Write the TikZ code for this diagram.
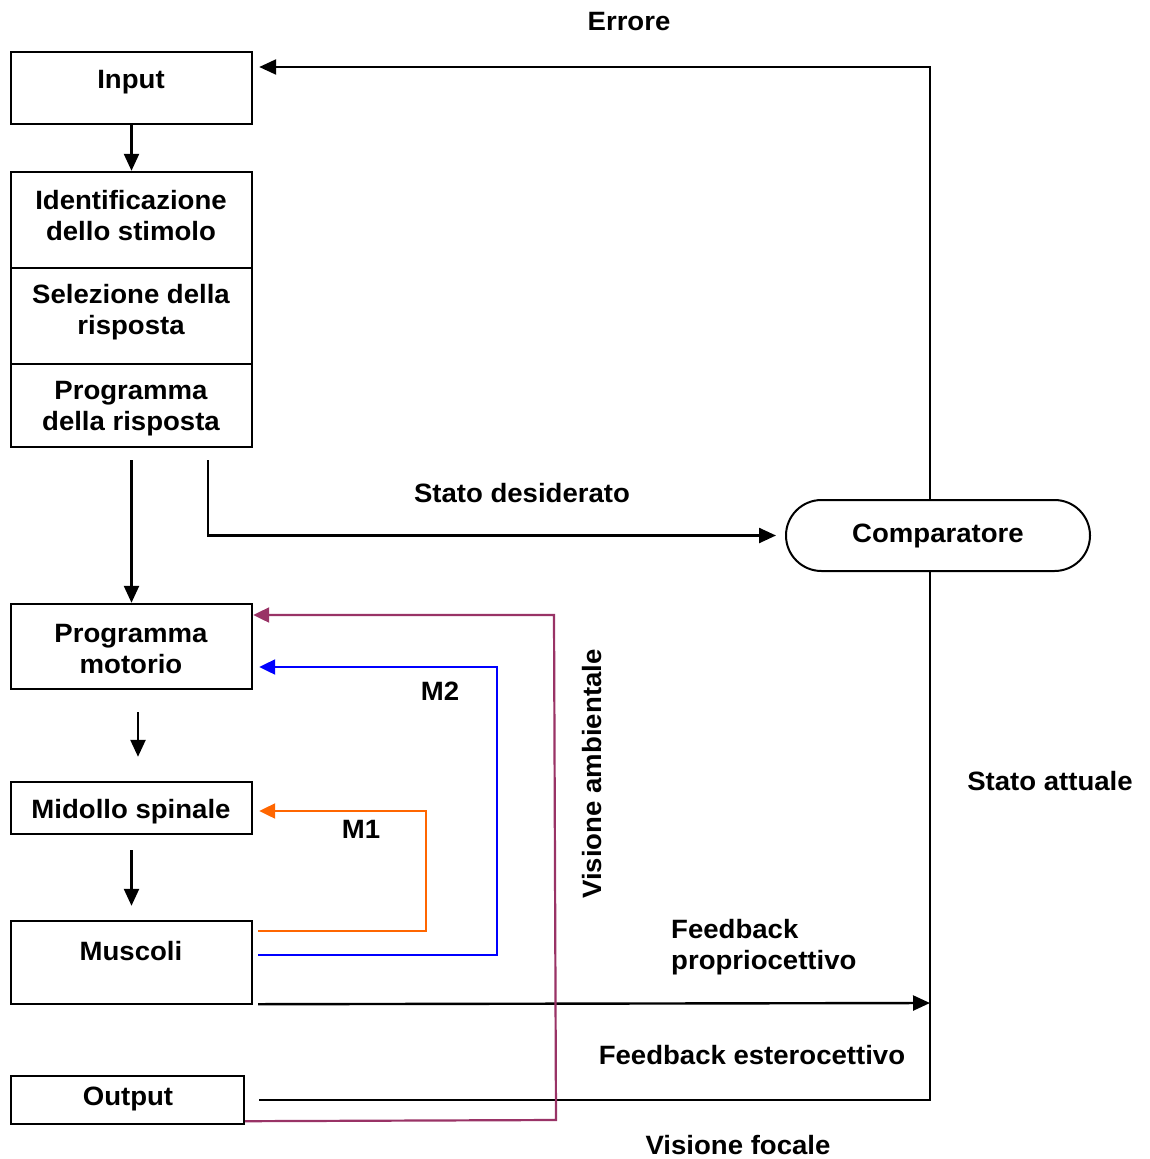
\documentclass[tikz,border=0pt]{standalone}
\usepackage{fontspec}
\setmainfont{Liberation Sans}[FakeStretch=1.04]
\usetikzlibrary{arrows.meta,shapes.misc}
\definecolor{cpurple}{HTML}{993366}
\definecolor{cblue}{HTML}{0000FF}
\definecolor{corange}{HTML}{FF6600}
\begin{document}
\begin{tikzpicture}[x=1pt,y=-1pt,
  box/.style={draw, line width=2.4pt, inner sep=0pt, minimum width=241pt},
  lbl/.style={font=\bfseries\fontsize{26.5}{31}\selectfont, align=center, inner sep=0pt, yshift=-2pt},
  arr/.style={line width=2.4pt, -{Triangle[length=17pt,width=15pt]}},
  cline/.style={line width=2.4pt},
  carr/.style={line width=2.2pt, -{Triangle[length=16pt,width=15pt]}}]
\useasboundingbox (0,0) rectangle (1149,1159);
% boxes
\node[box, minimum height=72pt] (input) at (131.5,88) {};
\node[box, minimum height=96pt] (idbox) at (131.5,220) {};
\node[box, minimum height=96pt] (selbox) at (131.5,316) {};
\node[box, minimum height=83pt] (progbox) at (131.5,405.5) {};
\node[box, minimum height=85pt] (motor) at (131.5,646.5) {};
\node[box, minimum height=52pt] (mid) at (131.5,808) {};
\node[box, minimum height=83pt] (mus) at (131.5,962.5) {};
\node[box, minimum width=233pt, minimum height=48pt] (out) at (127.5,1100) {};
\node[draw, rounded rectangle, line width=2pt, minimum width=304pt, minimum height=71pt, inner sep=0pt,
      font=\bfseries\fontsize{26.5}{31}\selectfont] (comp) at (938,535.5) {\raisebox{-2pt}{Comparatore}};
% box texts
\node[lbl] (tinput) at (131,80) {Input};
\node[lbl] (tid) at (131,214) {Identificazione\\dello stimolo};
\node[lbl] (tsel) at (131,310.5) {Selezione della\\risposta};
\node[lbl] (tprog) at (131,406.5) {Programma\\della risposta};
\node[lbl] (tmotor) at (131,647.5) {Programma\\motorio};
\node[lbl] (tmid) at (131,810) {Midollo spinale};
\node[lbl] (tmus) at (131,949) {Muscoli};
\node[lbl] (tout) at (128,1097) {Output};
% free labels
\node[lbl] (lerr) at (629,20) {Errore};
\node[lbl] (lsd) at (522,491) {Stato desiderato};
\node[lbl, rotate=90, yshift=0pt, xshift=-2pt] (lva) at (592,770) {Visione ambientale};
\node[lbl] (lsa) at (1050,779) {Stato attuale};
\node[lbl] (lm2) at (440,689) {M2};
\node[lbl] (lm1) at (361,827) {M1};
\node[lbl, align=left, anchor=west] (lfp) at (671,945.5) {Feedback\\propriocettivo};
\node[lbl] (lfe) at (752,1053) {Feedback esterocettivo};
\node[lbl] (lvf) at (738,1143) {Visione focale};
% coordinates
\coordinate (sd0) at (208,460);
\coordinate (fp) at (930,1003);
\coordinate (pa) at (556,1120);
\coordinate (pb) at (554,615);
\coordinate (ba) at (497,955);
\coordinate (bb) at (497,667);
\coordinate (oa) at (426,931);
\coordinate (ob) at (426,811);
% black connectors
\draw[arr] (input.south) -- (idbox.north);
\draw[arr, shorten <=12pt] (progbox.south) -- (motor.north);
\draw[arr, shorten >=9pt] (sd0) |- (comp.west);
\draw[arr, shorten >=6pt] ([xshift=-8pt]comp.north) |- ([yshift=21pt]input.east);
\draw[arr, shorten <=22pt, shorten >=24pt] ([xshift=6.5pt]motor.south) -- ([xshift=6.5pt]mid.north);
\draw[arr, shorten <=15pt, shorten >=14pt] (mid.south) -- (mus.north);
\draw[arr] ([xshift=5pt,yshift=1pt]mus.south east) -- (fp);
\draw[cline] ([xshift=-8pt]comp.south) |- ([xshift=14pt]out.east);
% coloured loops
\draw[carr, cpurple] ([yshift=4pt]out.south east) -- (pa) -- (pb) -- (pb -| motor.east);
\draw[carr, cblue, shorten >=6pt] ([xshift=5pt,yshift=7.5pt]mus.east) -- (ba) -- (bb) -- (bb -| motor.east);
\draw[carr, corange, shorten >=6pt] ([xshift=5pt,yshift=31.5pt]mus.east) -- (oa) -- (ob) -- (ob -| mid.east);
\end{tikzpicture}
\end{document}
